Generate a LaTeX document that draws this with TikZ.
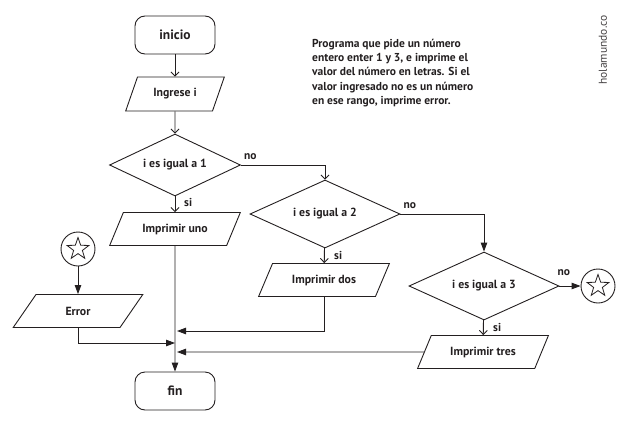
\documentclass[tikz,border=0pt]{standalone}
\usepackage{fontspec}
\setmainfont{PT Sans}
\usetikzlibrary{shapes.geometric, arrows.meta}
\definecolor{ln}{HTML}{231F20}
\tikzset{
  base/.style={draw=ln, line width=0.9pt, text=ln, font=\bfseries\fontsize{11.8}{13.5}\selectfont},
  term/.style={base, rounded corners=10pt, minimum width=80pt, minimum height=38pt, inner sep=0pt, font=\bfseries\fontsize{13.5}{15}\selectfont},
  para/.style={base, trapezium, trapezium left angle=55, trapezium right angle=125, trapezium stretches=true, minimum width=131pt, minimum height=33pt, inner sep=1pt},
  decision/.style={base, diamond, aspect=2.2, inner sep=0pt, minimum width=150pt, minimum height=68pt},
  conn/.style={draw=ln, line width=0.9pt},
  openarr/.style={conn, -{Straight Barb[length=4pt,width=8pt]}},
  fillarr/.style={conn, -{Triangle[length=9pt,width=6.5pt]}},
  lbl/.style={text=ln, inner sep=0pt, font=\bfseries\fontsize{11.5}{13}\selectfont},
  conncirc/.style={circle, draw=ln, line width=0.9pt, minimum size=34pt, inner sep=0pt},
  starsh/.style={star, star points=5, star point ratio=2.5, draw=ln, line width=0.8pt, minimum size=23pt, inner sep=0pt}
}
\begin{document}
\begin{tikzpicture}[x=1pt, y=-1pt]
\useasboundingbox (0,0) rectangle (627,426);
% nodes
\node[term] (ini) at (175,35) {inicio};
\node[para, minimum width=99pt, minimum height=34pt, trapezium left angle=61, trapezium right angle=119] (ing) at (175,94) {Ingrese i};
\node[decision, minimum width=131pt, minimum height=62pt] (d1) at (175,165) {i es igual a 1};
\node[para] (uno) at (175,229) {Imprimir uno};
\node[decision] (d2) at (325,214) {i es igual a 2};
\node[para] (dos) at (324,280) {Imprimir dos};
\node[decision] (d3) at (484,286) {i es igual a 3};
\node[para] (tres) at (483,352) {Imprimir tres};
\node[conncirc] (c1) at (78,249) {};
\node[starsh] (s1) at (c1) {};
\node[para, minimum width=130pt] (err) at (78,311) {Error};
\node[conncirc] (c2) at (598,286) {};
\node[starsh] (s2) at (c2) {};
\node[term] (fin) at (175,391) {fin};
% junction points on the main line
\coordinate (j1) at (175,331);
\coordinate (j2) at (175,343);
\coordinate (j3) at (175,352);
% connectors
\draw[openarr] (ini) -- (ing);
\draw[openarr] (ing) -- (d1);
\draw[openarr] (d1) -- (uno);
\draw[openarr] (d1.east) -| (d2.north);
\draw[openarr] (d2) -- (dos);
\draw[fillarr] (d2.east) -| (d3.north);
\draw[openarr] (d3) -- (tres);
\draw[fillarr] (d3.east) -- (c2.west);
\draw[fillarr] (c1) -- (err);
\draw[fillarr] (uno) -- (fin);
\draw[fillarr] (dos.south) |- ([xshift=2pt]j1);
\draw[fillarr] (err.south) |- (j2);
\draw[fillarr] (tres.west) -- ([xshift=2pt]j3);
% labels
\node[lbl, anchor=base west] (no1) at ([xshift=3pt,yshift=6pt]d1.east) {no};
\node[lbl, anchor=base west] (no2) at ([xshift=3pt,yshift=6pt]d2.east) {no};
\node[lbl, anchor=base west] (no3) at ([xshift=-2pt,yshift=11pt]d3.east) {no};
\node[lbl, anchor=base west] (si1) at ([xshift=9pt,yshift=-10pt]d1.south) {si};
\node[lbl, anchor=base west] (si2) at ([xshift=9pt,yshift=-11pt]d2.south) {si};
\node[lbl, anchor=base west] (si3) at ([xshift=9pt,yshift=-11pt]d3.south) {si};
% comment and watermark
\node[anchor=north west, align=left, inner sep=0pt, text=ln, font=\bfseries\fontsize{11.5}{14.2}\selectfont] (cm) at (312,39)
  {Programa que pide un número\\entero enter 1 y 3, e imprime el\\valor del número en letras. Si el\\valor ingresado no es un número\\en ese rango, imprime error.};
\node[rotate=90, inner sep=0pt, text=ln!85, font=\fontsize{11.5}{13}\selectfont] (wm) at (603,50) {holamundo.co};
\end{tikzpicture}
\end{document}
